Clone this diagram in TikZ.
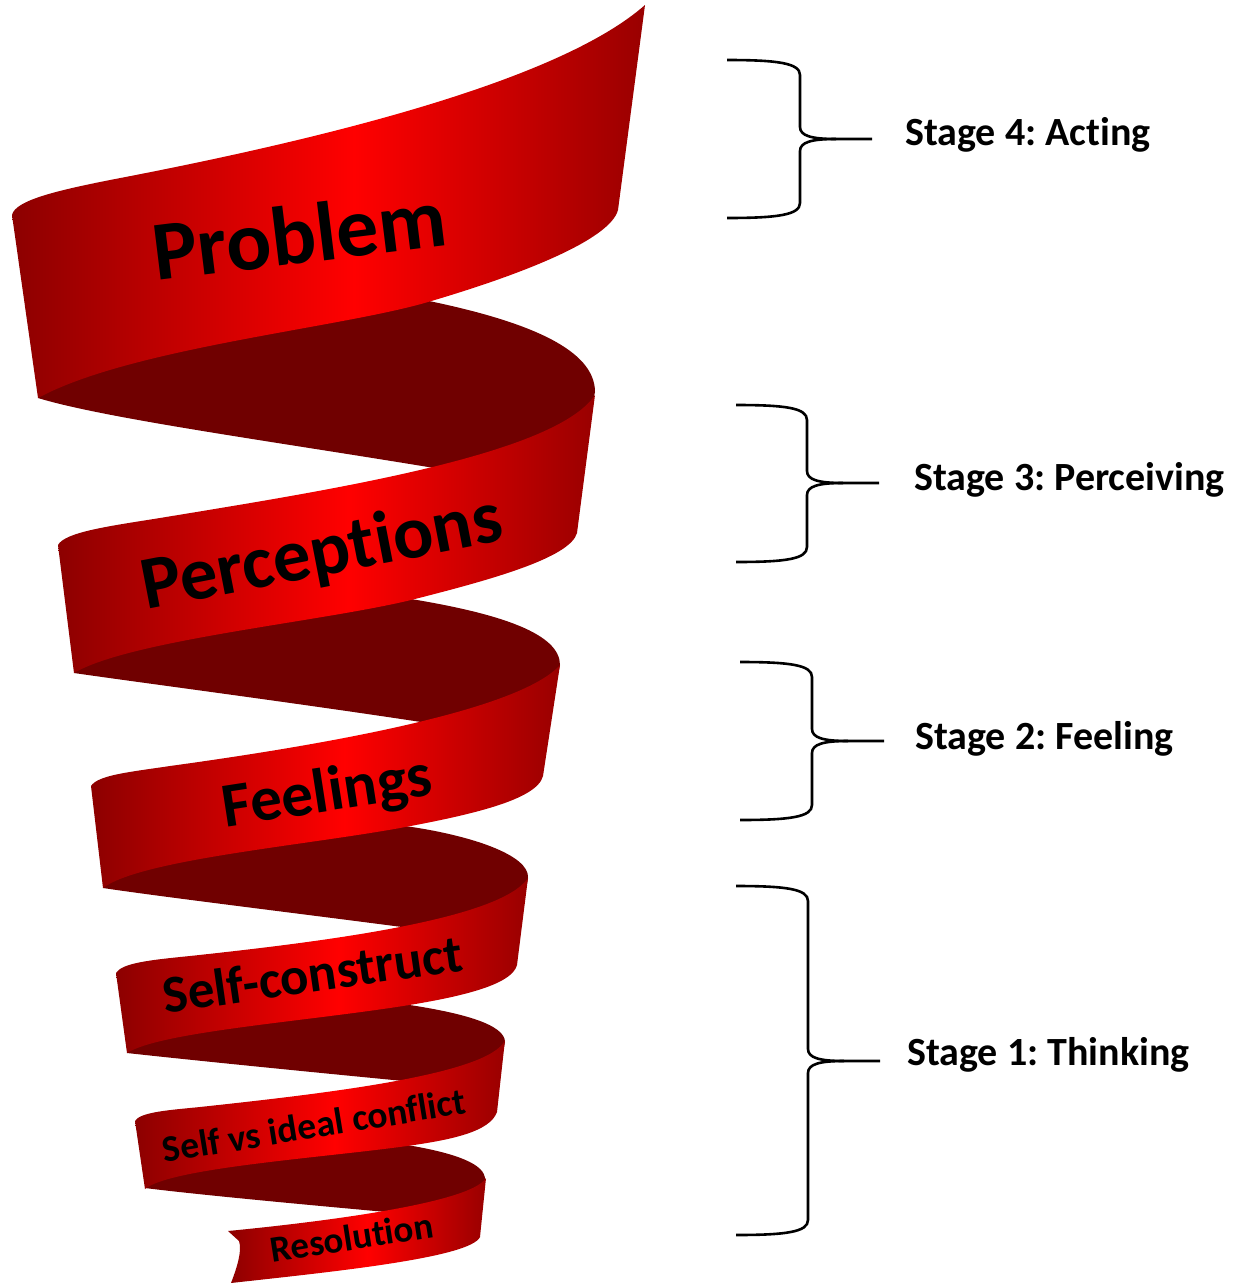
\documentclass[tikz,border=0pt]{standalone}
\usepackage{fontspec}
\setmainfont{Carlito}[Ligatures={NoCommon,NoContextual},Contextuals={NoAlternate}]
\frenchspacing
\pgfdeclarehorizontalshading{ribbonshade}{100bp}{rgb(0bp)=(0.55,0,0); rgb(25bp)=(0.55,0,0); rgb(52bp)=(1,0,0); rgb(75bp)=(0.6,0,0); rgb(100bp)=(0.6,0,0)}
\definecolor{backred}{RGB}{112,0,0}
\newcommand\stagebrace[6]{%
  \draw[bracestyle] (#1,#4) .. controls ({#1+50},#4) and (#2,{#4+3}) .. (#2,{#4+15}) -- (#2,{#5-12}) .. controls (#2,{#5-3}) and ({#2+12},#5) .. ({#2+36},#5) -- (#3,#5);
  \draw[bracestyle] ({#2+36},#5) .. controls ({#2+12},#5) and (#2,{#5+3}) .. (#2,{#5+12}) -- (#2,{#6-15}) .. controls (#2,{#6-3}) and ({#1+50},#6) .. (#1,#6);
}
\begin{document}
\begin{tikzpicture}[x=1pt,y=-1pt,
  backband/.style={fill=backred,draw=none},
  frontband/.style={shading=ribbonshade,draw=none},
  bandlabel/.style={anchor=base,inner sep=0pt,text=black},
  stagelabel/.style={anchor=base west,inner sep=0pt,text=black,font=\bfseries\fontsize{40}{46}\selectfont},
  bracestyle/.style={draw=black,line width=2.6pt,line join=round}]
\useasboundingbox[fill=white] (0,0) rectangle (1235,1283);

% back (inner) faces of the ribbon
\fill[backband] (38,398) -- (60,330) -- (380,297) -- (429,301) .. controls (530,322) and (595,350) .. (595,392) -- (585,440) -- (470,474) .. controls (300,445) and (110,420) .. (38,398) -- cycle;
\fill[backband] (74,673) -- (95,620) -- (370,600) -- (411,599) .. controls (502,614) and (560,634) .. (560,665) -- (552,700) -- (460,728) .. controls (320,706) and (150,684) .. (74,673) -- cycle;
\fill[backband] (103,888) -- (120,840) -- (360,825) -- (405,826) .. controls (470,835) and (530,855) .. (528,878) -- (522,910) -- (440,932) .. controls (320,916) and (170,898) .. (103,888) -- cycle;
\fill[backband] (127,1053) -- (140,1010) -- (370,1008) -- (403,1004) .. controls (465,1013) and (505,1025) .. (505,1042) -- (498,1075) -- (435,1084) .. controls (330,1074) and (190,1060) .. (127,1053) -- cycle;
\fill[backband] (145,1188) -- (160,1150) -- (380,1145) -- (407,1145) .. controls (455,1153) and (486,1164) .. (485,1180) -- (482,1210) -- (420,1215) .. controls (330,1207) and (200,1195) .. (145,1188) -- cycle;

% front faces of the ribbon
\shade[frontband] (12,215) .. controls (15,200) and (60,190) .. (110,180) .. controls (330,138) and (560,80) .. (645,5) -- (618,210) .. controls (610,240) and (520,275) .. (428,302) .. controls (340,328) and (130,348) .. (38,398) -- cycle;
\shade[frontband] (58,545) .. controls (65,532) and (110,526) .. (160,518) .. controls (330,490) and (555,455) .. (595,395) -- (577,533) .. controls (570,558) and (490,580) .. (411,600) .. controls (320,622) and (130,640) .. (74,673) -- cycle;
\shade[frontband] (91,786) .. controls (98,775) and (130,772) .. (170,766) .. controls (330,744) and (520,710) .. (560,665) -- (543,776) .. controls (537,800) and (470,815) .. (400,828) .. controls (300,846) and (140,860) .. (103,888) -- cycle;
\shade[frontband] (116,973) .. controls (122,963) and (150,960) .. (190,956) .. controls (320,942) and (500,920) .. (528,878) -- (517,965) .. controls (512,985) and (460,997) .. (403,1006) .. controls (300,1022) and (160,1032) .. (127,1053) -- cycle;
\shade[frontband] (135,1121) .. controls (140,1112) and (170,1110) .. (200,1107) .. controls (320,1094) and (490,1075) .. (505,1040) -- (497,1112) .. controls (490,1132) and (450,1140) .. (407,1146) .. controls (320,1158) and (170,1168) .. (145,1189) -- cycle;
\shade[frontband] (228,1231) .. controls (300,1224) and (470,1205) .. (486,1178) -- (480,1237) .. controls (470,1258) and (330,1272) .. (231,1283) .. controls (238,1265) and (242,1250) .. (239,1241) -- cycle;

% ribbon labels
\node[bandlabel,rotate=7,font=\bfseries\fontsize{84}{92}\selectfont] (problem) at (303,263) {Problem};
\node[bandlabel,rotate=11,font=\bfseries\fontsize{75}{82}\selectfont] (perceptions) at (326,575) {Perceptions};
\node[bandlabel,rotate=8.8,font=\bfseries\fontsize{63}{70}\selectfont] (feelings) at (330,811) {Feelings};
\node[bandlabel,rotate=8.2,font=\bfseries\fontsize{53}{60}\selectfont] (selfconstruct) at (315,992) {Self-construct};
\node[bandlabel,rotate=9.3,font=\bfseries\fontsize{37.5}{44}\selectfont] (conflict) at (316,1138) {Self vs ideal conflict};
\node[bandlabel,rotate=8.9,font=\bfseries\fontsize{37}{42}\selectfont] (resolution) at (354,1250) {Resolution};

% stage labels
\node[stagelabel] (stage4) at (905,145) {Stage 4: Acting};
\node[stagelabel] (stage3) at (914,490) {Stage 3: Perceiving};
\node[stagelabel] (stage2) at (915,749) {Stage 2: Feeling};
\node[stagelabel] (stage1) at (907,1065) {Stage 1: Thinking};

% braces
\stagebrace{727}{800}{872}{60}{139}{218}
\stagebrace{736}{807}{879}{405}{483}{562}
\stagebrace{740}{812}{884}{662}{741}{820}
\stagebrace{736}{808}{880}{886}{1061}{1235}
\end{tikzpicture}
\end{document}
